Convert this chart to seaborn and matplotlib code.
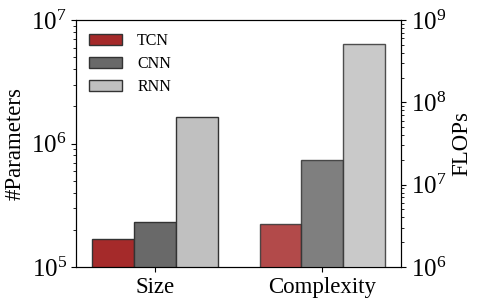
import pandas as pd
import matplotlib
matplotlib.use("Agg")
import matplotlib.pyplot as plt
import matplotlib.ticker as mticker
import seaborn as sns

models = ["TCN", "CNN", "RNN"]
groups = ["Size", "Complexity"]
params = [1.67e5, 2.29e5, 1.63e6]     # Size, left axis
flops = [3.3e6, 2.01e7, 5.1e8]        # Complexity, right axis
colors = ["#A52A2A", "#696969", "#C0C0C0"]

sns.set_style("ticks")
plt.rcParams["font.family"] = "serif"
plt.rcParams["font.serif"] = ["Liberation Serif", "DejaVu Serif"]
plt.rcParams["mathtext.fontset"] = "stix"
for k in ["text.color", "axes.labelcolor", "xtick.color", "ytick.color", "axes.edgecolor"]:
    plt.rcParams[k] = "black"

size_df = pd.DataFrame({"group": "Size", "model": models, "value": params})
comp_df = pd.DataFrame({"group": "Complexity", "model": models, "value": flops})

fig, ax = plt.subplots(figsize=(4.78, 3.05), dpi=100)
fig.subplots_adjust(left=0.160, right=0.839, top=0.934, bottom=0.125)
ax2 = ax.twinx()

ax.set_yscale("log")
ax2.set_yscale("log")

sns.barplot(
    data=size_df, x="group", y="value", hue="model",
    order=groups, hue_order=models, palette=colors,
    width=0.75, saturation=1, edgecolor="#333333", linewidth=1,
    ax=ax
)
sns.barplot(
    data=comp_df, x="group", y="value", hue="model",
    order=groups, hue_order=models, palette=colors,
    width=0.75, saturation=1, edgecolor="#333333", linewidth=1,
    alpha=0.85, legend=False, ax=ax2
)

ax.set_ylim(1e5, 1e7)
ax2.set_ylim(1e6, 1e9)
ax.set_xlim(-0.47, 1.47)

for a in (ax, ax2):
    a.yaxis.set_minor_formatter(mticker.NullFormatter())
    a.tick_params(axis="y", which="major", labelsize=18)
    a.tick_params(axis="x", which="major", labelsize=16.5)
    a.set_xlabel("")

ax.set_ylabel("#Parameters", fontsize=16.5)
ax2.set_ylabel("FLOPs", fontsize=16.5)

ax.legend(
    loc="upper left", frameon=False, fontsize=11.5,
    handlelength=2.05, handleheight=0.72,
    borderaxespad=0.4, labelspacing=0.45, handletextpad=0.95
)

plt.savefig("out.png", dpi=100)
